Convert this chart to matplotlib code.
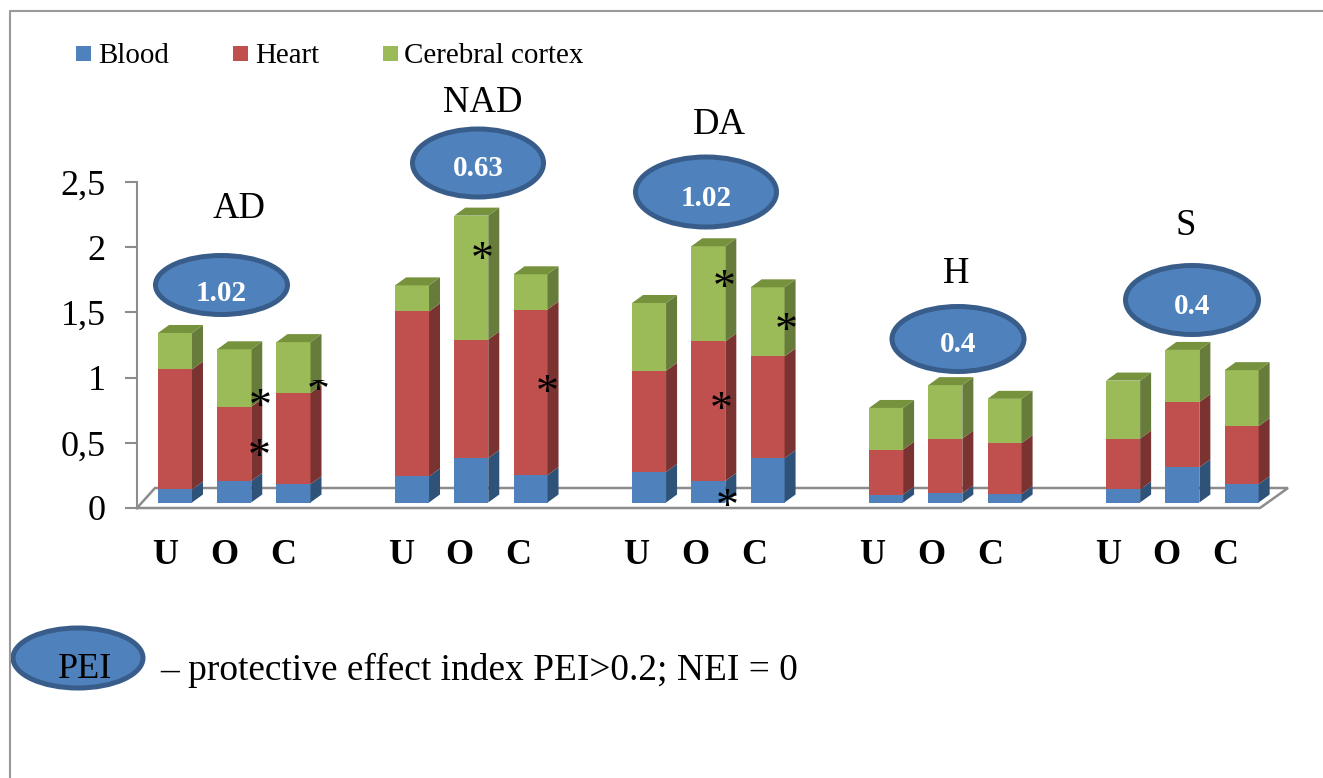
import numpy as np
import matplotlib
matplotlib.use('Agg')
import matplotlib.pyplot as plt
from matplotlib.patches import Ellipse, Polygon, Rectangle
from matplotlib.transforms import Bbox

plt.rcParams['font.family'] = ['Liberation Serif', 'DejaVu Serif']

# data
groups = ['AD', 'NAD', 'DA', 'H', 'S']
bar_labels = ['U', 'O', 'C']
blood = [0.10, 0.165, 0.14, 0.20, 0.34, 0.21, 0.235, 0.165, 0.34, 0.06, 0.07, 0.065, 0.10, 0.27, 0.14]
heart = [0.92, 0.57, 0.70, 1.265, 0.91, 1.27, 0.775, 1.07, 0.78, 0.345, 0.42, 0.39, 0.39, 0.50, 0.445]
cortex = [0.28, 0.44, 0.39, 0.20, 0.95, 0.27, 0.52, 0.73, 0.53, 0.32, 0.41, 0.34, 0.445, 0.40, 0.43]
pei = ['1.02', '0.63', '1.02', '0.4', '0.4']
yticks = [0, 0.5, 1, 1.5, 2, 2.5]
yticklabels = ['0', '0,5', '1', '1,5', '2', '2,5']
series_names = ['Blood', 'Heart', 'Cerebral cortex']

W, H = 1323, 778
front = ['#4F81BD', '#C0504D', '#9BBB59']
side = ['#2F5279', '#7B3331', '#677B3A']
top_col = '#76923C'
grey = '#8C8C8C'

fig = plt.figure(figsize=(W / 100, H / 100), dpi=100)
ax = fig.add_axes([137 / W, (H - 508) / H, (1260 - 137) / W, 326 / H])
ax.set_xlim(-0.641, 18.31)
ax.set_ylim(0, 2.5)

# depth of the fake 3d look, in data units
dx = 11 / 59.25
dy = 8 / 130.4
base = 5.5 / 130.4
bw = 34 / 59.25

x = np.array([g * 4 + i for g in range(5) for i in range(3)])
bottom = np.full(15, base)
for vals, fc, sc in zip([blood, heart, cortex], front, side):
    vals = np.array(vals)
    ax.bar(x, vals, bw, bottom=bottom, color=fc, edgecolor='none', zorder=3)
    for xi, b, v in zip(x, bottom, vals):
        r = xi + bw / 2
        ax.add_patch(Polygon([(r, b), (r + dx, b + dy), (r + dx, b + v + dy), (r, b + v)],
                             fc=sc, ec='none', zorder=3, clip_on=False))
    bottom = bottom + vals
for xi, t in zip(x, bottom):
    l, r = xi - bw / 2, xi + bw / 2
    ax.add_patch(Polygon([(l, t), (r, t), (r + dx, t + dy), (l + dx, t + dy)],
                         fc=top_col, ec='none', zorder=3, clip_on=False))

# floor
x0, x1 = ax.get_xlim()
fx = 18 / 59.25
fy = 20 / 130.4
ax.plot([x0, x0 + fx, x1 + 28 / 59.25, x1, x0], [0, fy, fy, 0, 0], color=grey, lw=1.8,
        clip_on=False, zorder=1, solid_joinstyle='miter')

for s in ['top', 'right', 'bottom']:
    ax.spines[s].set_visible(False)
ax.spines['left'].set_color(grey)
ax.spines['left'].set_linewidth(1.5)
ax.set_xticks([])
ax.set_yticks(yticks)
ax.set_yticklabels(yticklabels, fontsize=26)
ax.tick_params(axis='y', length=8.5, width=1.5, color=grey, pad=14)

for xi, lab in zip(x, bar_labels * 5):
    ax.text(xi * 0.9945 - 0.17, -48 / 130.4, lab, fontsize=26, fontweight='bold', ha='center', va='center', clip_on=False)

# overlay in pixel coordinates for the frame, legend and bubbles
ov = fig.add_axes([0, 0, 1, 1], zorder=5)
ov.set_xlim(0, W)
ov.set_ylim(H, 0)
ov.axis('off')
ov.plot([1323, 10, 10], [11, 11, 778], color='#999999', lw=1.5)

for px, tx, c, name in zip([76, 233, 383], [98, 255, 404], front, series_names):
    ov.add_patch(Rectangle((px, 46), 15, 15, fc=c, ec='none'))
    ov.text(tx, 56, name, fontsize=20.9, va='center', ha='left')

bubbles = [(221.5, 285, 137, 64), (478, 163, 136, 73), (706, 192, 146, 75), (958, 339, 137, 70), (1192, 300, 138, 74)]
val_pos = [(221, 293), (478, 168), (706, 198), (958, 344), (1192, 306)]
name_pos = [(239, 209), (483, 103), (719, 125), (956, 274), (1186, 226)]
for (cx, cy, w, h), vp, np_, v, g in zip(bubbles, val_pos, name_pos, pei, groups):
    ov.add_patch(Ellipse((cx, cy), w - 5, h - 5, fc='#4F81BD', ec='#385D8A', lw=3.6))
    ov.text(vp[0], vp[1], v, fontsize=21, fontweight='bold', color='white', ha='center', va='center')
    ov.text(np_[0], np_[1], g, fontsize=26.5, ha='center', va='center')

# stars
stars = [(260, 397), (259, 447), (482, 250), (547, 383), (724, 278), (721, 400), (727, 497), (786, 321)]
star_dy = 12
for sx, sy in stars:
    ov.text(sx, sy + star_dy, '*', fontsize=33, ha='center', va='center')
t = ov.text(318, 381 + star_dy, '*', fontsize=33, ha='center', va='center')
t.set_clip_box(Bbox([[300, H - 395], [340, H - 380]]))
t.set_clip_on(True)

ov.add_patch(Ellipse((78, 658), 130, 60, fc='#4F81BD', ec='#385D8A', lw=3.6))
ov.text(85, 669, 'PEI', fontsize=26, ha='center', va='center')
ov.text(160, 670, '– protective effect index PEI>0.2; NEI = 0', fontsize=26.9, ha='left', va='center')

fig.savefig('out.png', dpi=100)
